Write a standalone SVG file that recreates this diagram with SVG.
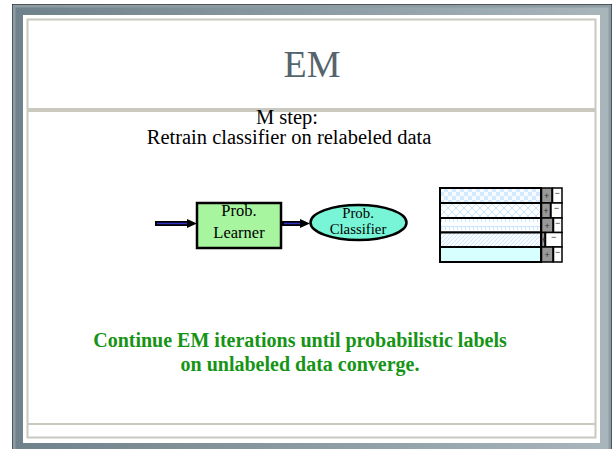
<svg xmlns="http://www.w3.org/2000/svg" width="613" height="449" viewBox="0 0 613 449">
  <defs>
    <style>
      .frame-line { fill: none; stroke: #c9c9c0; stroke-width: 2; }
      .title { font-family: "Liberation Serif", "Times New Roman", serif; font-size: 38px; fill: #55646c; text-anchor: middle; }
      .body { font-family: "Liberation Serif", "Times New Roman", serif; font-size: 20.5px; fill: #000; text-anchor: middle; }
      .node-label { font-family: "Liberation Serif", "Times New Roman", serif; font-size: 16.5px; fill: #000; text-anchor: middle; }
      .ellipse-label { font-family: "Liberation Serif", "Times New Roman", serif; font-size: 14.8px; fill: #000; text-anchor: middle; }
      .note { font-family: "Liberation Serif", "Times New Roman", serif; font-size: 20px; font-weight: bold; fill: #169416; text-anchor: middle; }
      .cell { stroke: #000; stroke-width: 2; }
      .pos { fill: #999; stroke: #000; stroke-width: 1.5; }
      .neg { fill: #fff; stroke: #000; stroke-width: 1.5; }
      .sign { font-family: "Liberation Sans", Arial, sans-serif; font-size: 9px; fill: #333; text-anchor: middle; }
      .shaft { stroke: #000; stroke-width: 5; }
      .shaft-core { stroke: #3333cc; stroke-width: 1.5; }
      .head { fill: #000; }
    </style>
    <linearGradient id="bevel" x1="0" y1="0" x2="1" y2="0">
      <stop offset="0" stop-color="#6f818b"/>
      <stop offset="1" stop-color="#a9b6bc"/>
    </linearGradient>
    <pattern id="checker" width="8" height="8" patternUnits="userSpaceOnUse">
      <rect width="8" height="8" fill="#f7fbff"/>
      <rect width="4" height="4" fill="#d3e9ff"/>
      <rect x="4" y="4" width="4" height="4" fill="#d3e9ff"/>
    </pattern>
    <pattern id="zigzag" width="8" height="8" patternUnits="userSpaceOnUse">
      <rect width="8" height="8" fill="#fbfdff"/>
      <path d="M0 0 L4 4 L8 0 M0 8 L4 4 L8 8" fill="none" stroke="#cde5fb" stroke-width="1"/>
    </pattern>
    <pattern id="brick" width="8" height="8" patternUnits="userSpaceOnUse">
      <rect width="8" height="8" fill="#fbfdff"/>
      <path d="M0 2.5 H8 M1.5 2.5 V6 M5.5 2.5 V6" fill="none" stroke="#cde5fb" stroke-width="1"/>
    </pattern>
    <pattern id="hatch" width="4" height="4" patternUnits="userSpaceOnUse">
      <rect width="4" height="4" fill="#f8fbff"/>
      <path d="M0 4 L4 0 M-1 1 L1 -1 M3 5 L5 3" stroke="#cde5fb" stroke-width="1"/>
    </pattern>
  </defs>

  <!-- slide frame -->
  <g id="frame">
    <rect x="12" y="4" width="600" height="460" fill="#111"/>
    <rect x="14" y="6" width="596" height="460" fill="url(#bevel)"/>
    <rect x="14" y="6" width="596" height="460" fill="none" stroke="#8d9ca4" stroke-width="3"/>
    <rect x="23" y="15" width="577" height="428" fill="#fff"/>
    <rect x="27.5" y="19.5" width="568" height="418" class="frame-line"/>
    <rect x="27.5" y="108" width="568" height="4" fill="#c9c9c0"/>
    <line x1="27.5" y1="424" x2="595.5" y2="424" class="frame-line"/>
  </g>

  <!-- headings -->
  <text class="title" x="312" y="77">EM</text>
  <text class="body" x="287" y="124">M step:</text>
  <text class="body" x="289" y="144">Retrain classifier on relabeled data</text>

  <!-- connectors -->
  <g id="connectors">
    <line class="shaft" x1="155" y1="223.5" x2="190" y2="223.5"/>
    <line class="shaft-core" x1="157" y1="223.5" x2="189" y2="223.5"/>
    <path class="head" d="M187 219 L197 223.5 L187 228 Z"/>
    <line class="shaft" x1="282" y1="223.5" x2="302" y2="223.5"/>
    <line class="shaft-core" x1="284" y1="223.5" x2="301" y2="223.5"/>
    <path class="head" d="M300 219 L310 223.5 L300 228 Z"/>
  </g>

  <!-- learner -->
  <g id="learner">
    <rect x="197" y="203" width="84" height="45" fill="#a8f5a0" stroke="#000" stroke-width="2.5"/>
    <text class="node-label" x="239" y="216">Prob.</text>
    <text class="node-label" x="239" y="238">Learner</text>
  </g>

  <!-- classifier -->
  <g id="classifier">
    <ellipse cx="358.5" cy="222.5" rx="48" ry="17.5" fill="#78f5d6" stroke="#000" stroke-width="2.5"/>
    <text class="ellipse-label" x="358" y="218">Prob.</text>
    <text class="ellipse-label" x="358" y="234">Classifier</text>
  </g>

  <!-- relabeled data table -->
  <g id="data-table">
    <rect class="cell" x="440" y="188" width="101" height="15" fill="url(#checker)"/>
    <rect class="cell" x="440" y="203" width="101" height="15" fill="url(#zigzag)"/>
    <rect class="cell" x="440" y="218" width="101" height="14.5" fill="url(#brick)"/>
    <rect class="cell" x="440" y="232.5" width="101" height="14.5" fill="url(#hatch)"/>
    <rect class="cell" x="440" y="247" width="101" height="15" fill="#d8ffff"/>

    <rect class="pos" x="541.5" y="188" width="10.5" height="15"/>
    <rect class="neg" x="552.5" y="188" width="9.5" height="15"/>
    <rect class="pos" x="541.5" y="203" width="9" height="15"/>
    <rect class="neg" x="551" y="203" width="11" height="15"/>
    <rect class="pos" x="541.5" y="218" width="11.5" height="14.5"/>
    <rect class="neg" x="553.5" y="218" width="8.5" height="14.5"/>
    <rect class="pos" x="541.5" y="232.5" width="3.5" height="14.5"/>
    <rect class="neg" x="545.5" y="232.5" width="16.5" height="14.5"/>
    <rect class="pos" x="541.5" y="247" width="11.5" height="15"/>
    <rect class="neg" x="553.5" y="247" width="8.5" height="15"/>

    <text class="sign" x="546.7" y="199">+</text>
    <text class="sign" x="557.2" y="196">−</text>
    <text class="sign" x="546" y="214">+</text>
    <text class="sign" x="556.5" y="211">−</text>
    <text class="sign" x="547.2" y="229">+</text>
    <text class="sign" x="557.7" y="226">−</text>
    <text class="sign" x="543.3" y="243">+</text>
    <text class="sign" x="553.7" y="240">−</text>
    <text class="sign" x="547.2" y="258">+</text>
    <text class="sign" x="557.7" y="255">−</text>
  </g>

  <!-- closing note -->
  <text class="note" x="300" y="347">Continue EM iterations until probabilistic labels</text>
  <text class="note" x="300" y="371">on unlabeled data converge.</text>
</svg>
